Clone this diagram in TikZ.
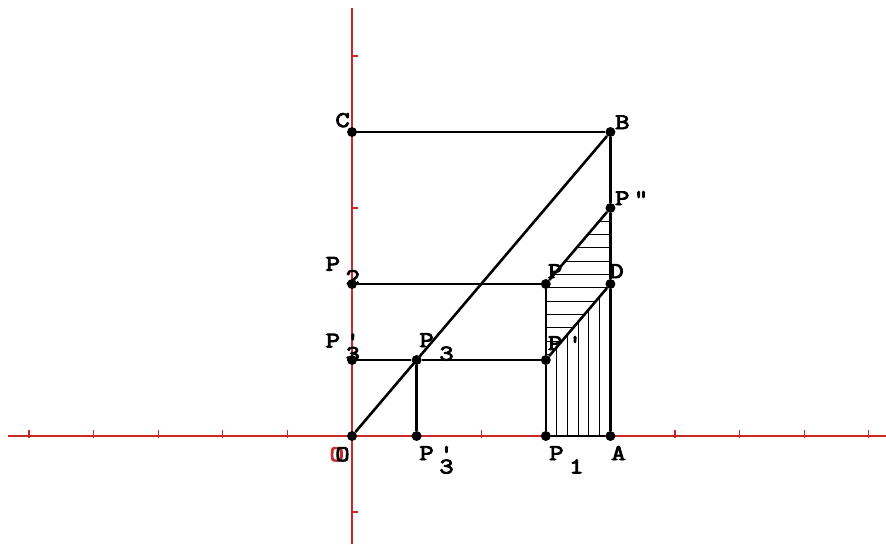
\documentclass[tikz,border=0pt]{standalone}
\usepackage{fontspec}
\newfontfamily\lblfont{Latin Modern Mono}[FakeBold=4,AutoFakeBold=4,FakeStretch=1.25]
\definecolor{axisred}{RGB}{200,40,40}
\tikzset{
  dot/.style={circle, fill=black, inner sep=0pt, minimum size=8.5pt},
  seg/.style={line width=2.2pt, black},
  hatch/.style={line width=0.8pt, black},
  lbl/.style={anchor=base west, inner sep=0pt, font=\lblfont\bfseries\fontsize{19}{22}\selectfont},
}
\newcommand{\lsub}[2]{#1\hspace{0.25em}\raisebox{-0.6em}{#2}}
\newcommand{\lpsub}[2]{#1\hspace{0.25em}\rlap{'}\raisebox{-0.6em}{#2}}

\begin{document}
\begin{tikzpicture}[x=1.938cm, y=2.28cm] %one unit per tick
  \useasboundingbox (-5.449,-1.421) rectangle (8.266,5.737);

  % Axes
  \draw[axisred, line width=2.2pt] (-5.32,0) -- (8.266,0);
  \draw[axisred, line width=2.2pt] (0,-1.421) -- (0,5.63);
  \foreach \i in {-5,...,8}
    \draw[axisred, line width=1pt] (\i,-0.02) -- (\i,0.08);
  \foreach \j in {-1,...,5}
    \draw[axisred, line width=1pt] (-0.02,\j) -- (0.09,\j);

  % Points
  \node[dot] (O) at (0,0) {};
  \node[dot] (A) at (4,0) {};
  \node[dot] (B) at (4,4) {};
  \node[dot] (C) at (0,4) {};
  \node[dot] (D) at (4,2) {};
  \node[dot] (Ppp) at (4,3) {};
  \node[dot] (P) at (3,2) {};
  \node[dot] (Pp) at (3,1) {};
  \node[dot] (P1) at (3,0) {};
  \node[dot] (P2) at (0,2) {};
  \node[dot] (P3y) at (0,1) {};
  \node[dot] (P3) at (1,1) {};
  \node[dot] (P3x) at (1,0) {};

  % Hatching under P'D
  \foreach \k in {1,...,5}
    \draw[hatch] (3+\k/6,0) -- (3+\k/6,1+\k/6);

  % Hatching between P'D and PP''
  \foreach \k in {1,...,11} {
    \pgfmathsetmacro\yy{3-0.175*\k}
    \pgfmathsetmacro\xl{max(3,\yy+1)}
    \pgfmathsetmacro\xr{min(4,\yy+2)}
    \draw[hatch] (\xl,\yy) -- (\xr,\yy);
  }

  % Segments
  \draw[seg] (C) -- (B);
  \draw[seg] (O) -- (B);
  \draw[seg] (B) -- (Ppp) -- (D) -- (A);
  \draw[seg] (P2) -- (P);
  \draw[seg] (P3y) -- (P3) -- (Pp);
  \draw[seg] (P3) -- (P3x);
  \draw[seg] (P1) -- (Pp) -- (P);
  \draw[seg] (P1) -- (A);
  \draw[seg] (Pp) -- (D);
  \draw[seg] (P) -- (Ppp);

  % Labels
  \node[lbl] (labC) at (-0.26,4.066) {C};
  \node[lbl] (labB) at (4.070,4.039) {B};
  \node[lbl] (labPpp) at (4.070,3.039) {P\hspace{0.2em}"};
  \node[lbl] (labD) at (3.980,2.079) {D};
  \node[lbl] (labP) at (3.030,2.079) {P};
  \node[lbl] (labPp) at (3.030,1.132) {P\hspace{0.25em}'};
  \node[lbl] (labP2) at (-0.41,2.176) {\lsub{P}{2}};
  \node[lbl] (labP3y) at (-0.41,1.166) {\lpsub{P}{3}};
  \node[lbl] (labP3) at (1.040,1.171) {\lsub{P}{3}};
  \node[lbl] (labP3x) at (1.040,-0.316) {\lpsub{P}{3}};
  \node[lbl] (labP1) at (3.050,-0.316) {\lsub{P}{1}};
  \node[lbl] (labA) at (4.010,-0.316) {A};
  \node[lbl, text=axisred] (labO) at (-0.35,-0.33) {O};
  \node[lbl] (labOb) at (-0.262,-0.33) {O};

\end{tikzpicture}
\end{document}
